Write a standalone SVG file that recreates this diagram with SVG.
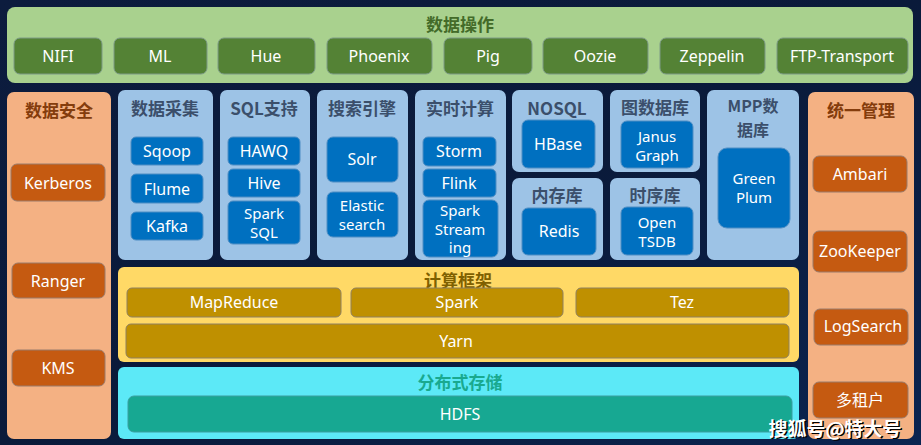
<svg xmlns="http://www.w3.org/2000/svg" width="921" height="445" viewBox="0 0 921 445">
<defs>
<linearGradient id="bg" x1="0" y1="0" x2="1" y2="1">
<stop offset="0" stop-color="#0c1c3e"/>
<stop offset="0.5" stop-color="#0a1a3a"/>
<stop offset="1" stop-color="#0a2450"/>
</linearGradient>
</defs>
<style>
text{font-family:"Noto Sans","Open Sans","Noto Sans CJK SC",sans-serif;text-anchor:middle;dominant-baseline:central}
.t{font-weight:bold;font-size:17px;font-family:"Noto Sans CJK SC","Noto Sans",sans-serif}
.b{font-size:16px;fill:#fff}
.m{font-size:15px;fill:#fff}
.pg{fill:#a9d18e}
.bg{fill:#548235;stroke:#7c9a86;stroke-width:1}
.po{fill:#f4b183}
.bo{fill:#c55a11;stroke:#9a7a6a;stroke-width:1}
.pb{fill:#9dc3e6}
.bb{fill:#0070c0;stroke:#4f8ec4;stroke-width:1}
.py{fill:#ffd966}
.by{fill:#bf9000;stroke:#8f8060;stroke-width:1}
.pc{fill:#5ce9f7}
.bc{fill:#17a892;stroke:#3a9fa0;stroke-width:1}
.tg{fill:#436b29}
.to{fill:#843c0c}
.tb{fill:#3b4f6b}
.ty{fill:#7f6000}
.tc{fill:#19a98f}
</style>
<rect width="921" height="445" fill="url(#bg)"/>

<g id="ops">
<rect class="pg" x="7" y="7" width="906" height="76" rx="8"/>
<text class="t tg" x="460" y="23">数据操作</text>
<g id="nifi"><rect class="bg" x="14" y="38" width="88" height="36" rx="6"/><text class="b" x="58" y="56">NIFI</text></g>
<g id="ml"><rect class="bg" x="114" y="38" width="93" height="36" rx="6"/><text class="b" x="160" y="56">ML</text></g>
<g id="hue"><rect class="bg" x="218" y="38" width="97" height="36" rx="6"/><text class="b" x="266" y="56">Hue</text></g>
<g id="phoenix"><rect class="bg" x="327" y="38" width="105" height="36" rx="6"/><text class="b" x="379" y="56">Phoenix</text></g>
<g id="pig"><rect class="bg" x="444" y="38" width="88" height="36" rx="6"/><text class="b" x="488" y="56">Pig</text></g>
<g id="oozie"><rect class="bg" x="543" y="38" width="105" height="36" rx="6"/><text class="b" x="595" y="56">Oozie</text></g>
<g id="zeppelin"><rect class="bg" x="660" y="38" width="105" height="36" rx="6"/><text class="b" x="712" y="56">Zeppelin</text></g>
<g id="ftp"><rect class="bg" x="777" y="38" width="131" height="36" rx="6"/><text class="b" x="842" y="56">FTP-Transport</text></g>
</g>

<g id="security">
<rect class="po" x="7" y="92" width="104" height="347" rx="7"/>
<text class="t to" x="59" y="109">数据安全</text>
<g id="kerberos"><rect class="bo" x="11" y="164" width="94" height="37" rx="6"/><text class="b" x="58" y="183">Kerberos</text></g>
<g id="ranger"><rect class="bo" x="12" y="263" width="93" height="35" rx="6"/><text class="b" x="58" y="281">Ranger</text></g>
<g id="kms"><rect class="bo" x="12" y="350" width="93" height="36" rx="6"/><text class="b" x="58" y="368">KMS</text></g>
</g>

<g id="mgmt">
<rect class="po" x="808" y="92" width="106" height="347" rx="7"/>
<text class="t to" x="861" y="109">统一管理</text>
<g id="ambari"><rect class="bo" x="813" y="156" width="94" height="36" rx="6"/><text class="b" x="860" y="174">Ambari</text></g>
<g id="zookeeper"><rect class="bo" x="813" y="231" width="94" height="41" rx="6"/><text class="b" x="860" y="251">ZooKeeper</text></g>
<g id="logsearch"><rect class="bo" x="814" y="309" width="94" height="36" rx="6"/><text class="b" x="863" y="326">LogSearch</text></g>
<g id="tenant"><rect class="bo" x="813" y="382" width="95" height="36" rx="6"/><text class="b" x="860" y="400">多租户</text></g>
</g>

<g id="collect">
<rect class="pb" x="118" y="90" width="95" height="170" rx="7"/>
<text class="t tb" x="165" y="107">数据采集</text>
<g id="sqoop"><rect class="bb" x="131" y="137" width="72" height="28" rx="5"/><text class="b" x="167" y="151">Sqoop</text></g>
<g id="flume"><rect class="bb" x="131" y="174" width="72" height="29" rx="5"/><text class="b" x="167" y="189">Flume</text></g>
<g id="kafka"><rect class="bb" x="131" y="212" width="72" height="28" rx="5"/><text class="b" x="167" y="226">Kafka</text></g>
</g>

<g id="sql">
<rect class="pb" x="220" y="90" width="90" height="170" rx="7"/>
<text class="t tb" x="264" y="107">SQL支持</text>
<g id="hawq"><rect class="bb" x="228" y="137" width="72" height="28" rx="5"/><text class="b" x="264" y="151">HAWQ</text></g>
<g id="hive"><rect class="bb" x="228" y="169" width="72" height="28" rx="5"/><text class="b" x="264" y="183">Hive</text></g>
<g id="sparksql"><rect class="bb" x="228" y="201" width="72" height="43" rx="5"/><text class="m" x="264" y="213">Spark</text><text class="m" x="264" y="232">SQL</text></g>
</g>

<g id="search">
<rect class="pb" x="317" y="90" width="91" height="170" rx="7"/>
<text class="t tb" x="362" y="107">搜索引擎</text>
<g id="solr"><rect class="bb" x="327" y="137" width="71" height="45" rx="6"/><text class="b" x="362" y="159">Solr</text></g>
<g id="elastic"><rect class="bb" x="327" y="192" width="71" height="45" rx="6"/><text class="m" x="362" y="205">Elastic</text><text class="m" x="362" y="224">search</text></g>
</g>

<g id="realtime">
<rect class="pb" x="415" y="90" width="91" height="170" rx="7"/>
<text class="t tb" x="460" y="107">实时计算</text>
<g id="storm"><rect class="bb" x="423" y="137" width="73" height="29" rx="5"/><text class="b" x="459" y="151">Storm</text></g>
<g id="flink"><rect class="bb" x="423" y="169" width="73" height="28" rx="5"/><text class="b" x="459" y="183">Flink</text></g>
<g id="sparkstreaming"><rect class="bb" x="423" y="200" width="75" height="57" rx="6"/><text class="m" x="460" y="210">Spark</text><text class="m" x="460" y="228.5">Stream</text><text class="m" x="460" y="247">ing</text></g>
</g>

<g id="nosql">
<rect class="pb" x="512" y="90" width="91" height="82" rx="7"/>
<text class="t tb" x="557" y="107">NOSQL</text>
<g id="hbase"><rect class="bb" x="522" y="120" width="73" height="48" rx="6"/><text class="b" x="558" y="144">HBase</text></g>
</g>

<g id="memdb">
<rect class="pb" x="512" y="178" width="91" height="82" rx="7"/>
<text class="t tb" x="557" y="194">内存库</text>
<g id="redis"><rect class="bb" x="522" y="208" width="74" height="47" rx="6"/><text class="b" x="559" y="231">Redis</text></g>
</g>

<g id="graphdb">
<rect class="pb" x="610" y="90" width="90" height="82" rx="7"/>
<text class="t tb" x="655" y="106">图数据库</text>
<g id="janus"><rect class="bb" x="621" y="121" width="72" height="47" rx="6"/><text class="m" x="657" y="135.5">Janus</text><text class="m" x="657" y="154.5">Graph</text></g>
</g>

<g id="tsdb">
<rect class="pb" x="610" y="178" width="90" height="82" rx="7"/>
<text class="t tb" x="655" y="194">时序库</text>
<g id="opentsdb"><rect class="bb" x="621" y="207" width="72" height="48" rx="6"/><text class="m" x="657" y="221.5">Open</text><text class="m" x="657" y="240.5">TSDB</text></g>
</g>

<g id="mpp">
<rect class="pb" x="707" y="90" width="92" height="170" rx="7"/>
<text class="t tb" x="753" y="105" style="font-size:16px">MPP数</text>
<text class="t tb" x="753" y="129" style="font-size:16px">据库</text>
<g id="greenplum"><rect class="bb" x="718" y="148" width="72" height="80" rx="9"/><text class="m" x="754" y="178">Green</text><text class="m" x="754" y="197">Plum</text></g>
</g>

<g id="compute">
<rect class="py" x="118" y="267" width="681" height="95" rx="6"/>
<text class="t ty" x="458" y="279">计算框架</text>
<g id="mapreduce"><rect class="by" x="127" y="288" width="214" height="29" rx="5"/><text class="b" x="234" y="302">MapReduce</text></g>
<g id="spark"><rect class="by" x="351" y="288" width="212" height="29" rx="5"/><text class="b" x="457" y="302">Spark</text></g>
<g id="tez"><rect class="by" x="576" y="288" width="213" height="29" rx="5"/><text class="b" x="682" y="302">Tez</text></g>
<g id="yarn"><rect class="by" x="126" y="324" width="663" height="34" rx="5"/><text class="b" x="456" y="341">Yarn</text></g>
</g>

<g id="storage">
<rect class="pc" x="118" y="367" width="681" height="72" rx="6"/>
<text class="t tc" x="460" y="381">分布式存储</text>
<g id="hdfs"><rect class="bc" x="128" y="396" width="664" height="36" rx="6"/><text class="b" x="460" y="414">HDFS</text></g>
</g>

<g id="watermark">
<text x="835" y="427" style="font-family:'Noto Sans CJK SC',sans-serif;font-weight:bold;font-size:19px;fill:#000" transform="translate(1.5,1.5)">搜狐号@特大号</text>
<text x="835" y="427" style="font-family:'Noto Sans CJK SC',sans-serif;font-weight:bold;font-size:19px;fill:#fff">搜狐号@特大号</text>
</g>
</svg>
